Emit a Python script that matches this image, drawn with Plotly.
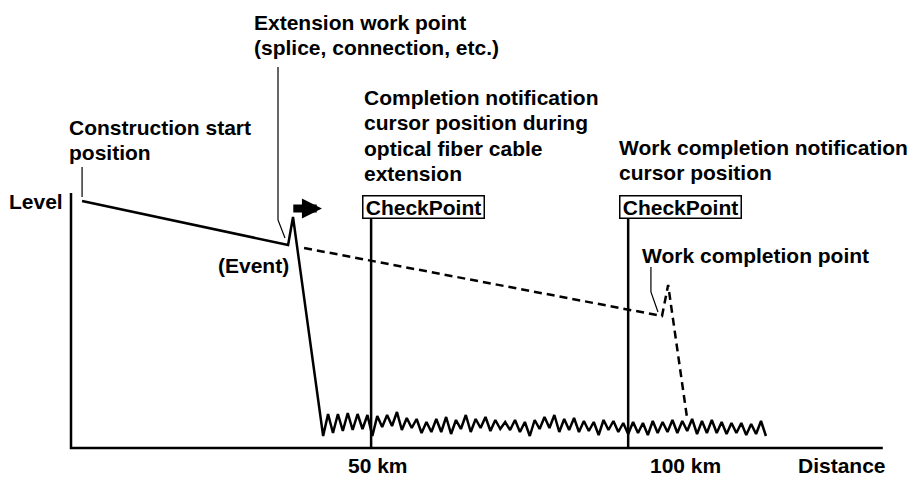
import plotly.graph_objects as go

# distance in km, level in dB (0 dB = baseline)
trace_km = [1.8, 35.3, 36.1, 41.0]
trace_db = [49.4, 40.6, 46.2, 2.4]

# noise floor after the fibre end
noise_km = [
    41.8, 42.6, 43.4, 44.2, 45.0, 45.8, 46.6, 47.4, 48.2, 49.0,
    49.8, 50.6, 51.4, 52.2, 53.0, 53.8, 54.6, 55.4, 56.2, 57.0,
    57.8, 58.6, 59.4, 60.2, 61.0, 61.8, 62.6, 63.4, 64.2, 65.0,
    65.8, 66.6, 67.4, 68.2, 69.0, 69.8, 70.6, 71.4, 72.2, 73.0,
    73.8, 74.6, 75.4, 76.2, 77.0, 77.8, 78.6, 79.4, 80.2, 81.0,
    81.8, 82.6, 83.4, 84.2, 85.0, 85.8, 86.6, 87.4, 88.2, 89.0,
    89.8, 90.6, 91.4, 92.2, 93.0, 93.8, 94.6, 95.4, 96.2, 97.0,
    97.8, 98.6, 99.4, 100.2, 101.0, 101.8, 102.6, 103.4, 104.2, 105.0,
    105.8, 106.6, 107.4, 108.2, 109.0, 109.8, 110.6, 111.4, 112.2, 113.0,
]
noise_db = [
    6.8, 3.0, 6.8, 3.4, 7.0, 3.6, 6.8, 3.8, 6.6, 2.4,
    6.4, 4.2, 6.6, 4.4, 7.2, 3.6, 6.0, 4.0, 5.8, 3.0,
    5.2, 3.2, 5.8, 3.2, 6.2, 2.8, 5.6, 3.8, 6.6, 3.2,
    5.8, 4.0, 6.2, 3.4, 5.6, 3.8, 5.2, 3.6, 5.6, 3.2,
    5.2, 2.4, 5.6, 3.8, 6.2, 4.0, 6.6, 3.2, 5.8, 3.6,
    6.0, 3.2, 5.4, 3.4, 5.2, 2.6, 5.6, 3.6, 5.4, 3.2,
    5.0, 2.8, 5.2, 3.0, 5.0, 2.6, 5.4, 3.0, 5.2, 3.2,
    5.6, 3.0, 5.4, 3.4, 5.8, 2.8, 5.4, 3.0, 5.6, 3.0,
    5.2, 2.8, 5.0, 3.0, 5.0, 2.6, 4.8, 2.8, 5.4, 2.4,
]

# expected trace after extension (dashed)
ext_km = [37.9, 96.1, 97.1, 100.2]
ext_db = [40.0, 26.4, 32.6, 5.8]

checkpoint_km = [48.8, 90.6]
checkpoint_top = 45.8

axis_end_km = 132.0
axis_top_db = 51.0

tick_km = [50, 100]
tick_text = ["50 km", "100 km"]

FONT = dict(family="Liberation Sans, Arial, sans-serif", size=21, color="black")
LINE_STEP = 5.1  # dB between text lines

fig = go.Figure()

# axes
fig.add_trace(
    go.Scatter(
        x=[0, 0, axis_end_km],
        y=[axis_top_db, 0, 0],
        mode="lines",
        line=dict(color="black", width=2.5),
    )
)

# measured trace + noise
fig.add_trace(
    go.Scatter(
        x=trace_km + noise_km,
        y=trace_db + noise_db,
        mode="lines",
        line=dict(color="black", width=2.5),
    )
)

fig.add_trace(
    go.Scatter(
        x=ext_km,
        y=ext_db,
        mode="lines",
        line=dict(color="black", width=2.5, dash="8px,5px"),
    )
)

# cursor lines
for cp in checkpoint_km:
    fig.add_trace(
        go.Scatter(
            x=[cp, cp],
            y=[0, checkpoint_top],
            mode="lines",
            line=dict(color="black", width=2.5),
        )
    )

# leader lines
leaders = [
    ([1.8, 1.8], [56.2, 50.2]),
    ([33.66, 33.66, 34.8], [76.2, 45.6, 42.0]),
    ([94.3, 94.3, 95.45], [36.2, 31.2, 27.2]),
]
for lx, ly in leaders:
    fig.add_trace(
        go.Scatter(x=lx, y=ly, mode="lines", line=dict(color="black", width=1.2))
    )

labels = [
    (["Extension work point", "(splice, connection, etc.)"], 29.4, 85.2, "left"),
    (["Construction start", "position"], -0.65, 64.2, "left"),
    (["Level"], -0.95, 49.4, "right"),
    (["(Event)"], 35.8, 36.6, "right"),
    (
        [
            "Completion notification",
            "cursor position during",
            "optical fiber cable",
            "extension",
        ],
        47.3,
        70.2,
        "left",
    ),
    (["Work completion notification", "cursor position"], 88.8, 60.2, "left"),
    (["Work completion point"], 92.5, 38.6, "left"),
    (["Distance"], 132.8, -3.4, "right"),
]
for lines, x, y, anchor in labels:
    for i, text in enumerate(lines):
        fig.add_annotation(
            x=x,
            y=y - i * LINE_STEP,
            text="<b>%s</b>" % text,
            showarrow=False,
            xanchor=anchor,
            yanchor="middle",
            font=FONT,
        )

for km, txt in zip(tick_km, tick_text):
    fig.add_annotation(
        x=km,
        y=-3.4,
        text="<b>%s</b>" % txt,
        showarrow=False,
        xanchor="center",
        yanchor="middle",
        font=FONT,
    )

# CheckPoint boxes
for bx in [57.24, 99.1]:
    fig.add_annotation(
        x=bx,
        y=48.3,
        text="<b>CheckPoint</b>",
        showarrow=False,
        xanchor="center",
        yanchor="middle",
        font=FONT,
        bordercolor="black",
        borderwidth=1.5,
        borderpad=0,
        width=120,
        height=21,
    )

# direction arrow
fig.add_annotation(
    x=40.8,
    y=47.9,
    ax=35.9,
    ay=47.9,
    xref="x",
    yref="y",
    axref="x",
    ayref="y",
    text="",
    showarrow=True,
    arrowhead=2,
    arrowwidth=8,
    arrowsize=0.5,
    arrowcolor="black",
)

# the page body adds an 8px margin, so the figure is 8px smaller
fig.update_layout(
    width=907,
    height=469,
    margin=dict(l=0, r=0, t=0, b=0),
    paper_bgcolor="white",
    plot_bgcolor="white",
    showlegend=False,
    xaxis=dict(visible=False, range=[-10.244, 137.24]),
    yaxis=dict(visible=False, range=[-5.8, 88.0]),
)

fig.write_html("out.html")
